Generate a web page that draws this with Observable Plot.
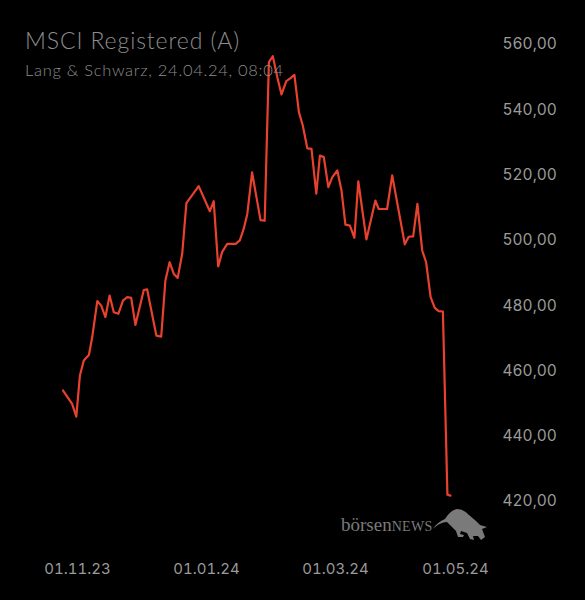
<!DOCTYPE html>
<html>
<head>
<meta charset="utf-8">
<script src="https://cdn.jsdelivr.net/npm/d3@7"></script>
<script src="https://cdn.jsdelivr.net/npm/@observablehq/plot@0.6"></script>
<style>
  html, body { margin: 0; padding: 0; background: #000; }
  #wrap { position: relative; width: 585px; height: 600px; background: #000; overflow: hidden; }
  #title { position: absolute; left: 25px; top: 26px; font-family: "Lato", "Open Sans", sans-serif; font-weight: 300; font-size: 23px; letter-spacing: 0.9px; color: #8d8d8d; white-space: nowrap; }
  #sub { position: absolute; left: 25px; top: 60px; font-family: "Lato", "Open Sans", sans-serif; font-weight: 300; font-size: 16.5px; letter-spacing: 0.7px; color: #8d8d8d; white-space: nowrap; }
  #logo { position: absolute; left: 341px; top: 514px; font-family: "Liberation Serif", "DejaVu Serif", serif; font-size: 19px; color: #7a7a7a; white-space: nowrap; }
  #logo .n { font-size: 14px; letter-spacing: 0.3px; }
  #bull { position: absolute; left: 430px; top: 500px; }
  #chart { position: absolute; left: 0; top: 0; }
</style>
</head>
<body>
<div id="wrap">
  <div id="chart"></div>
  <div id="title">MSCI Registered (A)</div>
  <div id="sub">Lang &amp; Schwarz, 24.04.24, 08:04</div>
  <div id="logo">börsen<span class="n">NEWS</span></div>
  <svg id="bull" width="65" height="45" viewBox="0 0 65 45">
    <path fill="#7a7a7a" d="M3,29 C6,24 10,21 15,19 C18,14 22,10 27,9 C32,9 36,12 39,15 L46,21 L50,25 L57,27 L52,29 L55,37 L51,40 L48,36 L43,36 L44,40 L40,39 L37,33 L31,31 L30,34 L34,35 L33,37 L28,37 L26,31 L22,27 L17,22 C12,22 7,25 3,29 Z"/>
  </svg>
</div>
<script>
// trading-day offset from 01.11.23
const day = [-4.8,-1.8,-0.4,0.8,2.1,3.8,4.9,6.6,7.9,9.3,10.7,12.1,13.6,15.2,16.6,17.9,19.3,22.1,23.2,26.3,27.9,29.3,30.7,32.1,33.4,34.9,36.3,40.4,44.1,45.4,46.9,48.2,49.9,52.7,54.1,55.4,56.6,58.2,61.0,62.4,63.8,65.1,66.6,68.0,69.6,71.0,72.3,73.8,75.1,76.6,78.0,79.6,80.8,82.1,83.6,84.9,86.6,88.0,89.3,90.8,92.3,93.6,96.3,99.3,100.4,103.2,104.9,109.1,110.4,111.9,113.3,114.9,116.2,117.7,119.1,120.4,121.8,123.3,124.3];
const price = [454.0,449.9,446.0,458.6,463.2,464.9,470.3,481.4,480.0,476.5,483.1,478.0,477.5,481.6,482.6,482.4,474.1,484.8,485.0,470.8,470.5,487.7,493.3,489.7,488.5,495.9,511.4,516.6,508.9,512.0,492.0,496.4,498.9,498.9,500.0,503.5,508.1,520.8,506.2,506.0,554.6,556.4,550.0,544.7,548.8,549.7,550.7,539.3,535.2,528.2,528.0,514.3,526.0,525.5,516.3,519.3,521.4,515.3,504.8,504.5,500.8,518.1,500.3,512.2,509.6,509.6,519.9,498.8,501.1,501.2,511.2,496.9,493.3,482.6,479.3,478.3,478.2,422.1,421.8];
const xTicks = [0, 43, 86, 126];
const xTickLabels = ["01.11.23", "01.01.24", "01.03.24", "01.05.24"];
const yTicks = [420, 440, 460, 480, 500, 520, 540, 560];

const data = day.map((d, i) => ({day: d, price: price[i]}));

const chart = Plot.plot({
  width: 585,
  height: 600,
  marginLeft: 62,
  marginRight: 94,
  marginTop: 44,
  marginBottom: 99,
  style: {background: "#000", color: "#9a9a9a", fontFamily: "Inter, Roboto, sans-serif", fontSize: "16px"},
  x: {type: "linear", domain: [-5, 138]},
  y: {domain: [420, 560]},
  marks: [
    Plot.axisX({ticks: xTicks, tickFormat: d => xTickLabels[xTicks.indexOf(d)], tickSize: 0, tickPadding: 62, fontSize: 15, fill: "#9a9a9a", label: null}),
    Plot.axisY({anchor: "right", ticks: yTicks, tickFormat: d => d.toFixed(2).replace(".", ","), tickSize: 0, tickPadding: 11, textAnchor: "start", fontSize: 15.5, fill: "#9a9a9a", label: null}),
    Plot.line(data, {x: "day", y: "price", stroke: "#e8412f", strokeWidth: 2.2, strokeLinejoin: "round"})
  ]
});
document.getElementById("chart").appendChild(chart);
</script>
</body>
</html>
